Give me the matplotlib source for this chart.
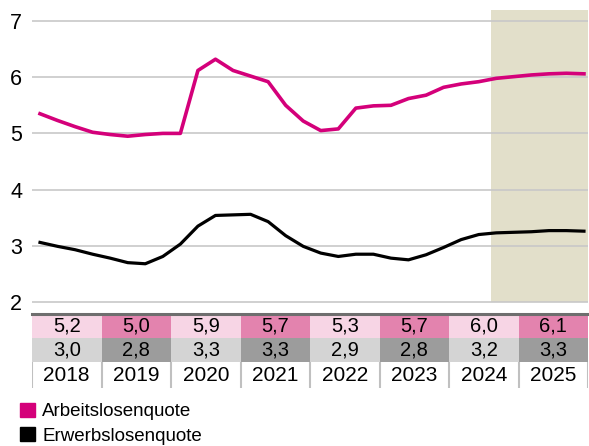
import numpy as np
import matplotlib
matplotlib.use('Agg')
import matplotlib.pyplot as plt
from matplotlib.patches import Patch

plt.rcParams['font.family'] = ['Liberation Sans', 'DejaVu Sans']

#
# Data: quarterly rates 2018Q1..2025Q4, annual table values
#
arbeitslosen_q = [5.35, 5.23, 5.12, 5.02, 4.98, 4.95, 4.98, 5.00,
                  5.00, 6.12, 6.32, 6.12, 6.02, 5.92, 5.50, 5.22,
                  5.05, 5.08, 5.45, 5.49, 5.50, 5.62, 5.68, 5.82,
                  5.88, 5.92, 5.98, 6.01, 6.04, 6.06, 6.07, 6.06]
erwerbslosen_q = [3.06, 2.99, 2.93, 2.85, 2.78, 2.70, 2.68, 2.81,
                  3.03, 3.35, 3.54, 3.55, 3.56, 3.43, 3.18, 2.99,
                  2.87, 2.81, 2.85, 2.85, 2.78, 2.75, 2.84, 2.97,
                  3.11, 3.20, 3.23, 3.24, 3.25, 3.27, 3.27, 3.26]
years = ['2018', '2019', '2020', '2021', '2022', '2023', '2024', '2025']
arbeitslosen_y = ['5,2', '5,0', '5,9', '5,7', '5,3', '5,7', '6,0', '6,1']
erwerbslosen_y = ['3,0', '2,8', '3,3', '3,3', '2,9', '2,8', '3,2', '3,3']
forecast_start = 25.7  # in quarter index

PINK = '#d4007a'
W, H = 589, 446
fig = plt.figure(figsize=(W / 100, H / 100), dpi=100)

#
# Line chart
#
ax = fig.add_axes([32 / W, (H - 314) / H, 556 / W, 304 / H])
q = np.arange(len(arbeitslosen_q))
ax.set_xlim(-0.456, 31.23)
ax.set_ylim(1.786, 7.196)
ax.fill_betweenx([2, 7.196], forecast_start, 31.23, color='#e2dfca', lw=0, zorder=0)
ax.plot(q, arbeitslosen_q, color=PINK, lw=2.6, solid_joinstyle='round', zorder=3)
ax.plot(q, erwerbslosen_q, color='black', lw=2.3, solid_joinstyle='round', zorder=3)
ax.set_yticks([2, 3, 4, 5, 6, 7])
ax.set_yticklabels(['2', '3', '4', '5', '6', '7'])
ax.set_xticks([])
ax.tick_params(axis='y', length=0, pad=7, labelsize=15.5)
ax.yaxis.grid(True, color='#c8c8c8', lw=1.2, zorder=1)
ax.set_axisbelow(True)
for s in ax.spines.values():
    s.set_visible(False)
ax.patch.set_alpha(0)

#
# Table below the chart
#
tab = fig.add_axes([32 / W, (H - 388) / H, 556 / W, 74 / H])
tab.set_xlim(0, 8)
tab.set_ylim(0, 74)
tab.axis('off')
xs = np.arange(len(years))
pink_cols = ['#f7d5e5' if i % 2 == 0 else '#e383ae' for i in xs]
gray_cols = ['#d4d4d4' if i % 2 == 0 else '#9c9c9c' for i in xs]
tab.bar(xs, 24, bottom=50, width=1, align='edge', color=pink_cols, lw=0)
tab.bar(xs, 24, bottom=26, width=1, align='edge', color=gray_cols, lw=0)
for i in xs:
    tab.text(i + 0.5, 61.5, arbeitslosen_y[i], ha='center', va='center', fontsize=14.5)
    tab.text(i + 0.5, 37.5, erwerbslosen_y[i], ha='center', va='center', fontsize=14.5)
    tab.text(i + 0.5, 12.5, years[i], ha='center', va='center', fontsize=15)
tab.vlines(np.arange(len(years) + 1), 0, 26, color='#c0c0c0', lw=1.5)
tab.axhline(74, color='#6e6e6e', lw=2.2, clip_on=False)

#
# Legend
#
handles = [Patch(color=PINK, label='Arbeitslosenquote'),
           Patch(color='black', label='Erwerbslosenquote')]
fig.legend(handles=handles, loc='upper left', bbox_to_anchor=(14 / W, 1 - 397 / H),
           frameon=False, fontsize=13.5, handlelength=0.8, handleheight=0.8,
           handletextpad=0.4, labelspacing=0.35, borderaxespad=0, borderpad=0.3)

fig.savefig('out.png', dpi=100)
